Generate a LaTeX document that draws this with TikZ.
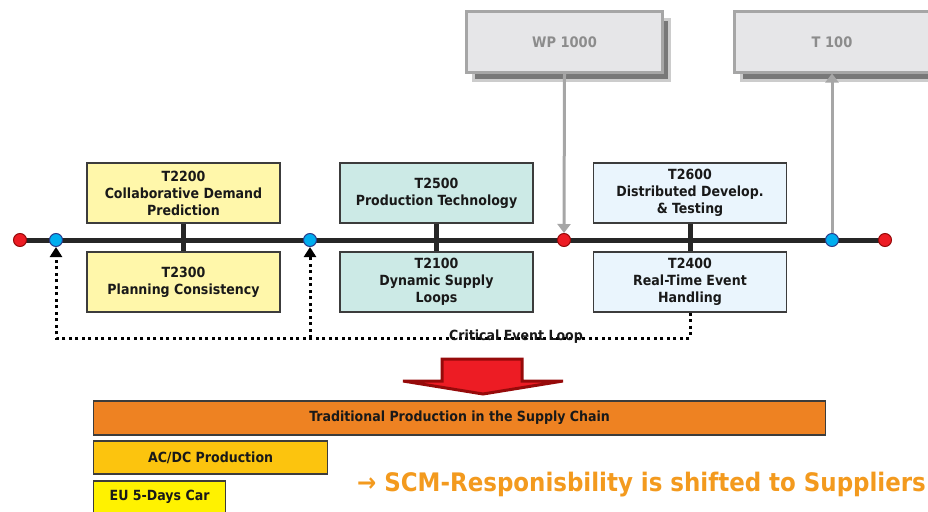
\documentclass[tikz,border=0pt]{standalone}
\usepackage{fontspec}
\setmainfont{DejaVu Sans Condensed}
\usepackage{tikz}
\usetikzlibrary{arrows.meta,positioning,shadows,calc}
\definecolor{tline}{RGB}{38,38,38}
\definecolor{boxline}{RGB}{60,60,60}
\definecolor{txt}{RGB}{25,25,25}
\definecolor{evred}{RGB}{237,28,36}
\definecolor{evredline}{RGB}{150,10,10}
\definecolor{evblue}{RGB}{0,174,239}
\definecolor{evblueline}{RGB}{40,60,140}
\definecolor{tyellow}{RGB}{255,247,170}
\definecolor{tteal}{RGB}{204,234,230}
\definecolor{tblue}{RGB}{234,245,253}
\definecolor{ghostfill}{RGB}{230,230,232}
\definecolor{ghostline}{RGB}{166,166,166}
\definecolor{ghosttxt}{RGB}{140,140,140}
\definecolor{shade}{RGB}{120,120,120}
\definecolor{tradorange}{RGB}{238,130,34}
\definecolor{acgold}{RGB}{252,196,14}
\definecolor{euyellow}{RGB}{255,242,0}
\definecolor{msgorange}{RGB}{243,154,30}

\begin{document}
\begin{tikzpicture}[x=1pt,y=-1pt,
    task/.style={draw=boxline,line width=1.2pt,minimum width=193pt,minimum height=60pt,
      inner sep=0pt,align=center,text=txt,font=\bfseries\fontsize{14}{17}\selectfont},
    ghost/.style={draw=ghostline,line width=3pt,fill=ghostfill,minimum width=196pt,
      minimum height=60pt,text=ghosttxt,font=\bfseries\fontsize{14.5}{17}\selectfont,
      drop shadow={shadow xshift=7pt,shadow yshift=-8pt,fill=shade,opacity=1,draw=gray!40}},
    evt/.style={circle,minimum size=13pt,inner sep=0pt,line width=1pt},
    redevt/.style={evt,fill=evred,draw=evredline},
    blueevt/.style={evt,fill=evblue,draw=evblueline},
    tick/.style={draw=tline,line width=5pt},
    feed/.style={draw=ghostline,line width=3pt,-{Triangle[length=9pt,width=13pt]}},
    loopline/.style={draw=black,line width=3pt,dash pattern=on 3pt off 3.5pt},
    bar/.style={draw=boxline,line width=1.2pt,anchor=west,inner sep=0pt,text=txt,
      font=\bfseries\fontsize{14}{16}\selectfont}]
  \path[use as bounding box,clip] (0,0) rectangle (928,511);

  % work packages on top
  \node[ghost] (wp) at (564.5,42) {WP 1000};
  \node[ghost] (t100) at (832,42) {T 100};

  % tasks above and below the time line
  \node[task,fill=tyellow] (t2200) at (183.5,193) {T2200\\Collaborative Demand\\Prediction};
  \node[task,fill=tyellow] (t2300) at (183.5,282) {T2300\\Planning Consistency};
  \node[task,fill=tteal] (t2500) at (436.5,193) {T2500\\Production Technology};
  \node[task,fill=tteal] (t2100) at (436.5,282) {T2100\\Dynamic Supply\\Loops};
  \node[task,fill=tblue] (t2600) at (690,193) {T2600\\Distributed Develop.\\\& Testing};
  \node[task,fill=tblue] (t2400) at (690,282) {T2400\\Real-Time Event\\Handling};

  \coordinate (l0) at (20,240);
  \coordinate (l1) at (885,240);
  \draw[tick] (l0) -- (l1);
  \draw[tick] (t2200.south) -- (t2300.north);
  \draw[tick] (t2500.south) -- (t2100.north);
  \draw[tick] (t2600.south) -- (t2400.north);

  \node[redevt] (d1) at (l0) {};
  \node[blueevt] (d2) at (56,240) {};
  \node[blueevt] (d3) at (310,240) {};
  \node[redevt] (d4) at (564,240) {};
  \node[blueevt] (d5) at (832,240) {};
  \node[redevt] (d6) at (l1) {};

  \draw[feed] (wp.south) -- (d4.north);
  \draw[feed] (d5.north) -- (t100.south);

  % critical event loop
  \coordinate (lc) at (56,338);
  \draw[loopline,-{Triangle[length=10pt,width=12pt]}] (t2400.south) |- (lc) -- (d2.south);
  \draw[loopline,-{Triangle[length=10pt,width=12pt]}] (d3.south |- lc) -- (d3.south);
  \node[text=txt,font=\bfseries\fontsize{14}{16}\selectfont] (cel) at (516,337) {Critical Event Loop};

  % shift arrow
  \draw[fill=evred,draw=evredline,line width=3pt,line join=miter]
    (442,359) -- (522,359) -- (522,381) -- (563,381) -- (483,394)
    -- (403,381) -- (442,381) -- cycle;

  \node[bar,fill=tradorange,minimum width=732pt,minimum height=34pt] (trad) at (93,418)
    {Traditional Production in the Supply Chain};
  \node[bar,fill=acgold,minimum width=234pt,minimum height=33pt] (acdc) at (93,457.5)
    {AC/DC Production};
  \node[bar,fill=euyellow,minimum width=132pt,minimum height=32pt] (eu) at (93,497)
    {EU 5-Days Car};

  \node[anchor=west,inner sep=0pt,text=msgorange,font=\bfseries\fontsize{25.5}{28}\selectfont]
    (msg) at (357,485) {→ SCM-Responisbility is shifted to Suppliers};
\end{tikzpicture}
\end{document}
